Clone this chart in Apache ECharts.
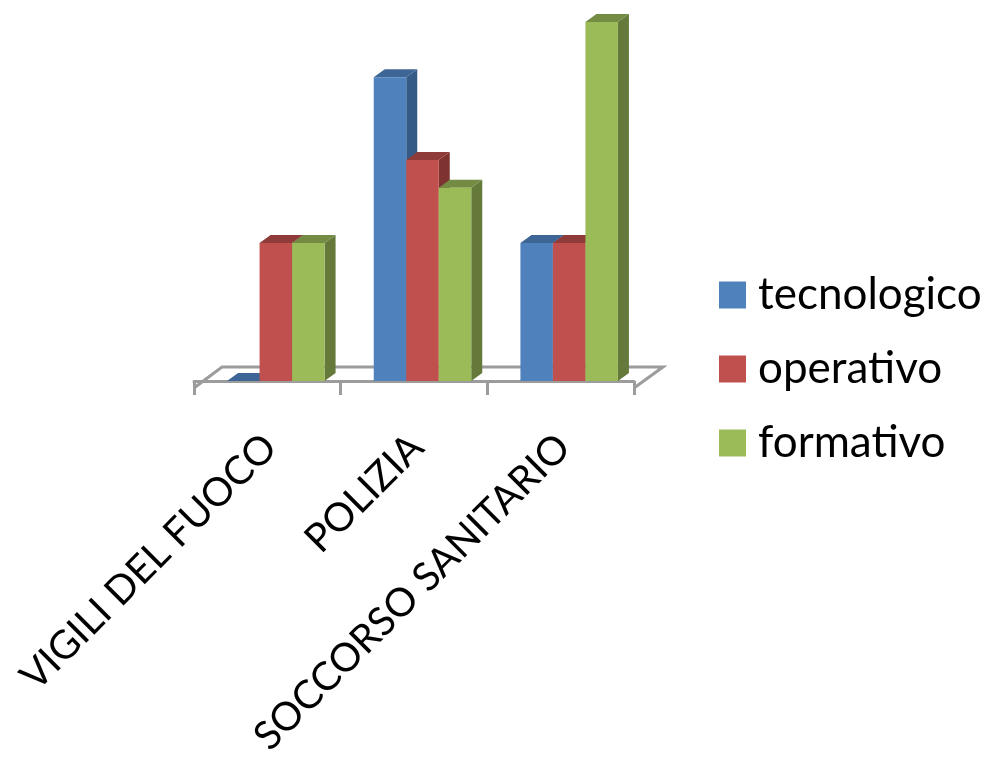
<!DOCTYPE html>
<html><head><meta charset="utf-8">
<style>html,body{margin:0;padding:0;background:#fff}#c{width:988px;height:757px}</style>
<script src="https://cdn.jsdelivr.net/npm/echarts@6/dist/echarts.min.js"></script>
</head><body><div id="c"></div>
<script>
const categories = ['VIGILI DEL FUOCO', 'POLIZIA', 'SOCCORSO SANITARIO'];
const tecnologico = [0, 11, 5];
const operativo = [5, 8, 5];
const formativo = [5, 7, 13];

const DEPTH_X = 11, DEPTH_Y = 8, SHIFT = 8.5, BAR_FRACTION = 0.2216;
const chart = echarts.init(document.getElementById('c'), null, {renderer: 'canvas'});

function barSeries(name, values, slot, front, top, side) {
  return {
    name, type: 'custom', itemStyle: {color: front}, z: 3 + slot,
    encode: {x: 0, y: 1},
    data: values.map((v, i) => [i, v]),
    renderItem(params, api) {
      const p = api.coord([api.value(0), api.value(1)]);
      const b = api.coord([api.value(0), 0]);
      const w = api.size([1, 0])[0] * BAR_FRACTION;
      const x0 = p[0] + SHIFT + (slot - 1.5) * w, x1 = x0 + w;
      const yt = p[1], yb = b[1];
      return {type: 'group', children: [
        {type: 'polygon', shape: {points: [[x1, yt], [x1 + DEPTH_X, yt - DEPTH_Y], [x1 + DEPTH_X, yb - DEPTH_Y], [x1, yb]]}, style: {fill: side}},
        {type: 'polygon', shape: {points: [[x0, yt], [x0 + DEPTH_X, yt - DEPTH_Y], [x1 + DEPTH_X, yt - DEPTH_Y], [x1, yt]]}, style: {fill: top}},
        {type: 'rect', shape: {x: x0, y: yt, width: w, height: yb - yt}, style: {fill: front}}
      ]};
    }
  };
}

const floorSeries = {
  type: 'custom', silent: true, z: 1, data: [[0, 0]], encode: {x: 0, y: 1},
  renderItem(params) {
    const g = params.coordSys, yf = g.y + g.height, xl = g.x, xr = g.x + g.width;
    return {type: 'polyline', shape: {points: [[xl, yf], [xl + 28, yf - 21], [xr + 29, yf - 21], [xr, yf]]},
      style: {fill: '#fff', stroke: '#9c9c9c', lineWidth: 3}};
  }
};

chart.setOption({
  animation: false,
  backgroundColor: '#fff',
  grid: {left: 194, top: 22, width: 440, height: 366, containLabel: false, outerBoundsMode: 'none'},
  xAxis: {
    type: 'category', data: categories,
    axisLine: {show: true, lineStyle: {color: '#9c9c9c', width: 3}},
    axisTick: {show: true, length: 14, alignWithLabel: false, lineStyle: {color: '#9c9c9c', width: 3}},
    axisLabel: {interval: 0, rotate: 45, margin: 50, color: '#000', fontFamily: 'Lato', fontSize: 39.5, verticalAlign: 'top', lineHeight: 8, hideOverlap: false},
    z: 2
  },
  yAxis: {type: 'value', min: -0.2535, max: 13, show: false, splitLine: {show: false}},
  legend: {
    orient: 'vertical', left: 719, top: 273, padding: 0, itemWidth: 27, itemHeight: 27, itemGap: 30,
    icon: 'rect', selectedMode: false,
    data: ['tecnologico', 'operativo', 'formativo'],
    textStyle: {color: '#000', fontFamily: 'Lato', fontSize: 44, padding: [0, 0, 0, 7]}
  },
  series: [
    floorSeries,
    barSeries('tecnologico', tecnologico, 0, '#4f81bd', '#3d6696', '#355a86'),
    barSeries('operativo', operativo, 1, '#c0504d', '#8f3b39', '#7f3331'),
    barSeries('formativo', formativo, 2, '#9bbb59', '#738b42', '#64793a')
  ]
});
</script></body></html>
